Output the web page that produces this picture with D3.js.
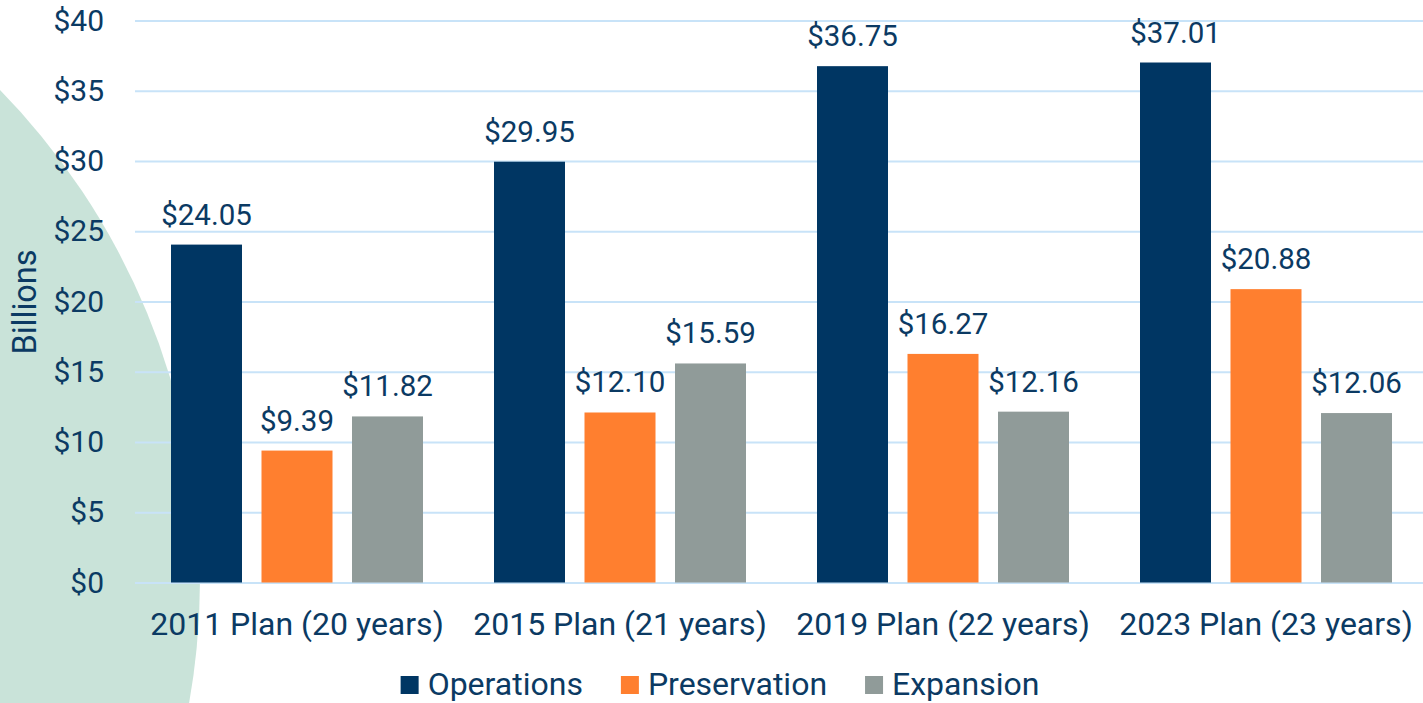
<!DOCTYPE html>
<html>
<head>
<meta charset="utf-8">
<script src="https://cdn.jsdelivr.net/npm/d3@7"></script>
<style>
    body { margin: 0; background: #ffffff; }
    text { font-family: Roboto, "Noto Sans", sans-serif; fill: #0b3a63; }
</style>
</head>
<body>
<div id="chart"></div>
<script>
// chart values
var categories = ["2011 Plan (20 years)", "2015 Plan (21 years)", "2019 Plan (22 years)", "2023 Plan (23 years)"];
var seriesNames = ["Operations", "Preservation", "Expansion"];
var operations = [24.05, 29.95, 36.75, 37.01];
var preservation = [9.39, 12.10, 16.27, 20.88];
var expansion = [11.82, 15.59, 12.16, 12.06];
var yTicks = [0, 5, 10, 15, 20, 25, 30, 35, 40];

var seriesColors = {
    "Operations": "#003663",
    "Preservation": "#ff7f2f",
    "Expansion": "#909b99"
};

var w = 1423;
var h = 703;

var svg = d3.select("#chart")
            .append("svg")
            .attr("width", w)
            .attr("height", h);

// decorative green circle behind the left side
svg.append("circle")
    .attr("cx", -500)
    .attr("cy", 580)
    .attr("r", 700)
    .attr("fill", "#c9e3d9");

var xScale = d3.scaleBand()
    .domain(categories)
    .range([135.5, 1427.5])
    .padding(0);

var xInner = d3.scaleBand()
    .domain(seriesNames)
    .range([35.5, xScale.bandwidth() - 35.5])
    .paddingInner(0.2155)
    .paddingOuter(0);

var yScale = d3.scaleLinear()
    .domain([0, 40])
    .range([582.5, 20.5]);

// horizontal grid
var yGrid = d3.axisLeft(yScale)
    .tickValues(yTicks)
    .tickSize(-(w - 135))
    .tickFormat("");

svg.append("g")
    .attr("class", "grid horizontal")
    .attr("transform", "translate(135,0)")
    .call(yGrid)
    .call(function(g) {
        g.select(".domain").remove();
        g.selectAll("line").attr("stroke", "#c8e3f8").attr("stroke-width", 2);
    });

// y axis labels
var yAxis = d3.axisLeft(yScale)
    .tickValues(yTicks)
    .tickSize(0)
    .tickPadding(0)
    .tickFormat(function(d) { return "$" + d; });

svg.append("g")
    .attr("class", "yAxis")
    .attr("transform", "translate(104,0)")
    .call(yAxis)
    .call(function(g) {
        g.select(".domain").remove();
        g.selectAll("text")
            .attr("font-size", 30)
            .attr("font-family", "Roboto")
            .attr("fill", "#0b3a63");
    });

svg.append("text")
    .attr("transform", "translate(36," + 302 + ") rotate(-90)")
    .attr("text-anchor", "middle")
    .attr("font-size", 32.5)
    .text("Billions");

// bars
var rows = categories.map(function(c, i) {
    return {
        category: c,
        values: [
            { name: "Operations", value: operations[i] },
            { name: "Preservation", value: preservation[i] },
            { name: "Expansion", value: expansion[i] }
        ]
    };
});

var groups = svg.selectAll("g.plan")
    .data(rows)
    .enter().append("g")
    .attr("class", "plan")
    .attr("transform", function(d) { return "translate(" + xScale(d.category) + ",0)"; });

groups.selectAll("rect")
    .data(function(d) { return d.values; })
    .enter().append("rect")
    .attr("x", function(d) { return xInner(d.name); })
    .attr("y", function(d) { return yScale(d.value); })
    .attr("width", xInner.bandwidth())
    .attr("height", function(d) { return yScale(0) - yScale(d.value); })
    .attr("fill", function(d) { return seriesColors[d.name]; });

groups.selectAll("text.value")
    .data(function(d) { return d.values; })
    .enter().append("text")
    .attr("class", "value")
    .attr("x", function(d) { return xInner(d.name) + xInner.bandwidth() / 2; })
    .attr("y", function(d) { return yScale(d.value) - 20; })
    .attr("text-anchor", "middle")
    .attr("font-size", 29.5)
    .text(function(d) { return "$" + d.value.toFixed(2); });

// x axis labels
var xAxis = d3.axisBottom(xScale).tickSize(0).tickPadding(0);

svg.append("g")
    .attr("class", "xAxis")
    .attr("transform", "translate(0,635)")
    .call(xAxis)
    .call(function(g) {
        g.select(".domain").remove();
        g.selectAll("text")
            .attr("dy", 0)
            .attr("font-size", 32)
            .attr("font-family", "Roboto")
            .attr("fill", "#0b3a63");
    });

// legend
var legend = svg.append("g").attr("class", "legend");
var lx = 0;
seriesNames.forEach(function(name) {
    var item = legend.append("g").attr("transform", "translate(" + lx + ",0)");
    item.append("rect")
        .attr("x", 0)
        .attr("y", 676)
        .attr("width", 18)
        .attr("height", 18)
        .attr("fill", seriesColors[name]);
    var t = item.append("text")
        .attr("x", 27)
        .attr("y", 694.5)
        .attr("font-size", 32)
        .text(name);
    lx += 27 + t.node().getComputedTextLength() + 38;
});
var legendWidth = lx - 38;
legend.attr("transform", "translate(" + (720 - legendWidth / 2) + ",0)");
</script>
</body>
</html>
